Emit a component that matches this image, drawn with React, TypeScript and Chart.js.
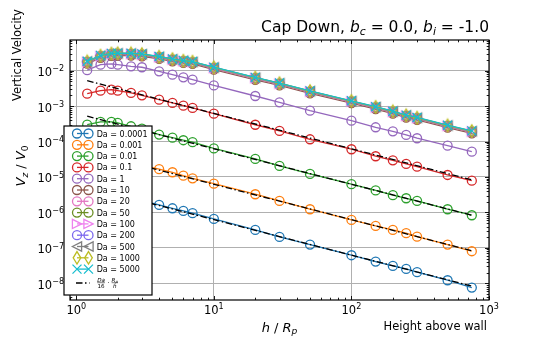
import React, { useEffect, useRef } from "react";
import { Chart, registerables } from "chart.js";
Chart.register(...registerables);

// ---------------- data ----------------
const heights = [1.2, 1.5, 1.8, 2, 2.5, 3, 4, 5, 6, 7, 10, 20, 30, 50, 100, 150, 200, 250, 300, 500, 750];

const daLabels = ["0.0001", "0.001", "0.01", "0.1", "1", "10", "20", "50", "100", "200", "500", "1000", "5000"];

const vzDa0p0001 = [3.7e-6, 4.0e-6, 3.5e-6, 3.2e-6, 2.55e-6, 2.15e-6, 1.63e-6, 1.31e-6, 1.1e-6, 9.5e-7, 6.56e-7, 3.2e-7, 2.04e-7, 1.24e-7, 6.2e-8, 4.1e-8, 3.1e-8, 2.55e-8, 2.06e-8, 1.22e-8, 7.56e-9];
const vzDa0p001 = [3.6e-5, 3.9e-5, 3.5e-5, 3.2e-5, 2.6e-5, 2.15e-5, 1.66e-5, 1.36e-5, 1.09e-5, 9.2e-6, 6.49e-6, 3.26e-6, 2.11e-6, 1.23e-6, 6.14e-7, 4.16e-7, 3.2e-7, 2.59e-7, 2.07e-7, 1.24e-7, 8.04e-8];
const vzDa0p01 = [3.0e-4, 3.57e-4, 3.57e-4, 3.35e-4, 2.7e-4, 2.31e-4, 1.57e-4, 1.29e-4, 1.09e-4, 9.6e-5, 6.4e-5, 3.23e-5, 2.05e-5, 1.22e-5, 6.28e-6, 4.18e-6, 3.06e-6, 2.51e-6, 2.11e-6, 1.23e-6, 8.33e-7];
const vzDa0p1 = [2.24e-3, 2.73e-3, 2.91e-3, 2.73e-3, 2.35e-3, 2.02e-3, 1.52e-3, 1.23e-3, 1.03e-3, 8.87e-4, 6.12e-4, 2.98e-4, 1.99e-4, 1.16e-4, 6.07e-5, 3.85e-5, 2.96e-5, 2.33e-5, 1.96e-5, 1.14e-5, 7.89e-6];
const vzDa1 = [1.03e-2, 1.48e-2, 1.55e-2, 1.48e-2, 1.33e-2, 1.25e-2, 9.6e-3, 7.7e-3, 6.5e-3, 5.57e-3, 3.83e-3, 1.93e-3, 1.28e-3, 7.45e-4, 3.89e-4, 2.53e-4, 1.95e-4, 1.54e-4, 1.24e-4, 7.66e-5, 5.19e-5];
const vzDa10 = [1.58e-2, 2.30e-2, 2.64e-2, 2.68e-2, 2.66e-2, 2.55e-2, 2.15e-2, 1.84e-2, 1.66e-2, 1.55e-2, 1.07e-2, 5.53e-3, 3.84e-3, 2.30e-3, 1.21e-3, 8.24e-4, 6.16e-4, 4.77e-4, 4.10e-4, 2.48e-4, 1.71e-4];
const vzDa20 = [1.69e-2, 2.45e-2, 2.81e-2, 2.86e-2, 2.83e-2, 2.72e-2, 2.29e-2, 1.96e-2, 1.77e-2, 1.65e-2, 1.14e-2, 5.89e-3, 4.10e-3, 2.46e-3, 1.29e-3, 8.79e-4, 6.57e-4, 5.09e-4, 4.37e-4, 2.64e-4, 1.82e-4];
const vzDa50 = [1.74e-2, 2.52e-2, 2.90e-2, 2.95e-2, 2.92e-2, 2.80e-2, 2.37e-2, 2.02e-2, 1.82e-2, 1.70e-2, 1.18e-2, 6.08e-3, 4.23e-3, 2.53e-3, 1.33e-3, 9.07e-4, 6.77e-4, 5.25e-4, 4.50e-4, 2.72e-4, 1.88e-4];
const vzDa100 = [1.78e-2, 2.58e-2, 2.96e-2, 3.01e-2, 2.98e-2, 2.86e-2, 2.41e-2, 2.06e-2, 1.86e-2, 1.74e-2, 1.20e-2, 6.20e-3, 4.31e-3, 2.59e-3, 1.35e-3, 9.25e-4, 6.91e-4, 5.35e-4, 4.60e-4, 2.78e-4, 1.92e-4];
const vzDa200 = [1.80e-2, 2.60e-2, 2.99e-2, 3.04e-2, 3.01e-2, 2.89e-2, 2.44e-2, 2.08e-2, 1.88e-2, 1.75e-2, 1.21e-2, 6.26e-3, 4.36e-3, 2.61e-3, 1.37e-3, 9.34e-4, 6.98e-4, 5.41e-4, 4.64e-4, 2.81e-4, 1.94e-4];
const vzDa500 = [1.81e-2, 2.63e-2, 3.02e-2, 3.07e-2, 3.04e-2, 2.91e-2, 2.46e-2, 2.10e-2, 1.90e-2, 1.77e-2, 1.23e-2, 6.32e-3, 4.40e-3, 2.64e-3, 1.38e-3, 9.43e-4, 7.05e-4, 5.46e-4, 4.69e-4, 2.83e-4, 1.96e-4];
const vzDa1000 = [1.83e-2, 2.65e-2, 3.05e-2, 3.10e-2, 3.07e-2, 2.94e-2, 2.49e-2, 2.12e-2, 1.91e-2, 1.79e-2, 1.24e-2, 6.39e-3, 4.44e-3, 2.66e-3, 1.39e-3, 9.53e-4, 7.11e-4, 5.51e-4, 4.73e-4, 2.86e-4, 1.98e-4];
const vzDa5000 = [1.85e-2, 2.68e-2, 3.08e-2, 3.13e-2, 3.10e-2, 2.97e-2, 2.51e-2, 2.14e-2, 1.93e-2, 1.81e-2, 1.25e-2, 6.45e-3, 4.48e-3, 2.69e-3, 1.41e-3, 9.62e-4, 7.18e-4, 5.57e-4, 4.78e-4, 2.89e-4, 2.00e-4];

// theory Da/16 * Rp/h, evaluated at the end heights
const theoryHeights = [1.2, 750];
const theoryDa0p0001 = [5.208e-6, 8.333e-9];
const theoryDa0p001 = [5.208e-5, 8.333e-8];
const theoryDa0p01 = [5.208e-4, 8.333e-7];
const theoryDa0p1 = [5.208e-3, 8.333e-6];

const xTickValues = [1, 10, 100, 1000];
const xTickExps = ["0", "1", "2", "3"];
const yTickValues = [1e-8, 1e-7, 1e-6, 1e-5, 1e-4, 1e-3, 1e-2];
const yTickExps = ["\u22128", "\u22127", "\u22126", "\u22125", "\u22124", "\u22123", "\u22122"];

// ---------------- styles ----------------
const seriesValues = [vzDa0p0001, vzDa0p001, vzDa0p01, vzDa0p1, vzDa1, vzDa10, vzDa20, vzDa50, vzDa100, vzDa200, vzDa500, vzDa1000, vzDa5000];
const seriesColors = ["#1f77b4", "#ff7f0e", "#2ca02c", "#d62728", "#9467bd", "#8c564b", "#e377c2", "#6b8e23", "#ee82ee", "#7b68ee", "#7f7f7f", "#bcbd22", "#17becf"];
const seriesMarkers = ["circle", "circle", "circle", "circle", "circle", "circle", "circle", "circle", "triR", "circle", "triL", "thinDiamond", "x"];
const theorySeries = [theoryDa0p0001, theoryDa0p001, theoryDa0p01, theoryDa0p1];

const FONT = '"DejaVu Sans"';
const LW = 1.3;
const DASHDOT = [6.5, 2.5, 1.5, 2.5];

type Run = { t: string; it?: boolean; sub?: boolean; sup?: boolean };

function runFont(size: number, r: Run) {
  const s = r.sub || r.sup ? size * 0.7 : size;
  return `${r.it ? "italic " : ""}${s}px ${FONT}`;
}
function measureRuns(ctx: CanvasRenderingContext2D, runs: Run[], size: number) {
  let w = 0;
  for (const r of runs) {
    ctx.font = runFont(size, r);
    w += ctx.measureText(r.t).width;
  }
  return w;
}
function drawRuns(ctx: CanvasRenderingContext2D, runs: Run[], size: number, x: number, y: number) {
  let cx = x;
  ctx.textAlign = "left";
  ctx.textBaseline = "alphabetic";
  for (const r of runs) {
    ctx.font = runFont(size, r);
    const dy = r.sub ? size * 0.22 : r.sup ? -size * 0.42 : 0;
    ctx.fillText(r.t, cx, y + dy);
    cx += ctx.measureText(r.t).width;
  }
}

function markerPath(ctx: CanvasRenderingContext2D, kind: string, x: number, y: number) {
  ctx.beginPath();
  if (kind === "circle") {
    ctx.arc(x, y, 4.5, 0, Math.PI * 2);
  } else if (kind === "triR") {
    ctx.moveTo(x + 4.6, y);
    ctx.lineTo(x - 4.6, y - 4.6);
    ctx.lineTo(x - 4.6, y + 4.6);
    ctx.closePath();
  } else if (kind === "triL") {
    ctx.moveTo(x - 4.6, y);
    ctx.lineTo(x + 4.6, y - 4.6);
    ctx.lineTo(x + 4.6, y + 4.6);
    ctx.closePath();
  } else if (kind === "thinDiamond") {
    ctx.moveTo(x, y - 6.2);
    ctx.lineTo(x + 3.8, y);
    ctx.lineTo(x, y + 6.2);
    ctx.lineTo(x - 3.8, y);
    ctx.closePath();
  } else if (kind === "x") {
    ctx.moveTo(x - 4.5, y - 4.5);
    ctx.lineTo(x + 4.5, y + 4.5);
    ctx.moveTo(x + 4.5, y - 4.5);
    ctx.lineTo(x - 4.5, y + 4.5);
  }
}

function makeMarkerCanvas(kind: string, color: string) {
  const c = document.createElement("canvas");
  c.width = 16;
  c.height = 16;
  const ctx = c.getContext("2d")!;
  ctx.strokeStyle = color;
  ctx.lineWidth = LW;
  markerPath(ctx, kind, 8, 8);
  ctx.stroke();
  return c;
}

const decorPlugin = {
  id: "decor",
  afterDraw(chart: any) {
    const ctx: CanvasRenderingContext2D = chart.ctx;
    const { left, right, top, bottom } = chart.chartArea;
    const xs = chart.scales.x;
    const ys = chart.scales.y;
    ctx.save();

    // inward ticks on all four sides
    ctx.strokeStyle = "#000";
    ctx.lineWidth = 0.9;
    const seg = (x1: number, y1: number, x2: number, y2: number) => {
      ctx.beginPath();
      ctx.moveTo(x1, y1);
      ctx.lineTo(x2, y2);
      ctx.stroke();
    };
    for (let k = -1; k <= 3; k++) {
      for (let m = 1; m <= 9; m++) {
        const v = m * Math.pow(10, k);
        if (v < xs.min || v > xs.max * 1.0001) continue;
        const px = Math.round(xs.getPixelForValue(v)) + 0.5;
        const len = m === 1 ? 4 : 2.3;
        seg(px, bottom, px, bottom - len);
        seg(px, top, px, top + len);
      }
    }
    for (let k = -9; k <= -1; k++) {
      for (let m = 1; m <= 9; m++) {
        const v = m * Math.pow(10, k);
        if (v < ys.min || v > ys.max) continue;
        const py = Math.round(ys.getPixelForValue(v)) + 0.5;
        const len = m === 1 ? 4 : 2.3;
        seg(left, py, left + len, py);
        seg(right, py, right - len, py);
      }
    }

    // frame
    ctx.lineWidth = 1.2;
    ctx.strokeRect(left, top, right - left, bottom - top);

    // tick labels
    ctx.fillStyle = "#000";
    const tickSize = 11.5;
    xTickValues.forEach((v, i) => {
      const px = xs.getPixelForValue(v);
      const runs: Run[] = [{ t: "10" }, { t: xTickExps[i], sup: true }];
      const w = measureRuns(ctx, runs, tickSize);
      drawRuns(ctx, runs, tickSize, px - w / 2, bottom + 13.5);
    });
    yTickValues.forEach((v, i) => {
      const py = ys.getPixelForValue(v);
      const runs: Run[] = [{ t: "10" }, { t: yTickExps[i], sup: true }];
      const w = measureRuns(ctx, runs, tickSize);
      drawRuns(ctx, runs, tickSize, left - 6 - w, py + 5.5);
    });

    // title
    const titleRuns: Run[] = [
      { t: "Cap Down, " },
      { t: "b", it: true },
      { t: "c", it: true, sub: true },
      { t: " = 0.0, " },
      { t: "b", it: true },
      { t: "i", it: true, sub: true },
      { t: " = -1.0" },
    ];
    const tSize = 15.5;
    const tw = measureRuns(ctx, titleRuns, tSize);
    drawRuns(ctx, titleRuns, tSize, right - tw, 32);

    // x label
    const xl: Run[] = [{ t: "h", it: true }, { t: " / " }, { t: "R", it: true }, { t: "p", it: true, sub: true }];
    const lSize = 13;
    const xlw = measureRuns(ctx, xl, lSize);
    drawRuns(ctx, xl, lSize, (left + right) / 2 - xlw / 2, 331.5);

    // height above wall
    ctx.font = `11.5px ${FONT}`;
    ctx.textAlign = "right";
    ctx.fillText("Height above wall", 487, 330);

    // y labels (rotated)
    const yl: Run[] = [{ t: "V", it: true }, { t: "z", it: true, sub: true }, { t: " / " }, { t: "V", it: true }, { t: "0", sub: true }];
    const ylw = measureRuns(ctx, yl, lSize);
    ctx.save();
    ctx.translate(25, 166);
    ctx.rotate(-Math.PI / 2);
    drawRuns(ctx, yl, lSize, -ylw / 2, 0);
    ctx.restore();

    ctx.save();
    ctx.font = `11.5px ${FONT}`;
    ctx.translate(21, 55);
    ctx.rotate(-Math.PI / 2);
    ctx.textAlign = "center";
    ctx.fillText("Vertical Velocity", 0, 0);
    ctx.restore();

    // legend
    const lx = 64, ly = 126, lw = 88, lh = 169;
    ctx.fillStyle = "#fff";
    ctx.fillRect(lx, ly, lw, lh);
    ctx.strokeStyle = "#000";
    ctx.lineWidth = 1.2;
    ctx.strokeRect(lx, ly, lw, lh);
    const hx1 = 77, hx2 = 88.5, textX = 96.7;
    daLabels.forEach((lab, i) => {
      const y = 133.5 + i * 11.3;
      const col = seriesColors[i];
      ctx.strokeStyle = col;
      ctx.lineWidth = LW;
      seg(hx1, y, hx2, y);
      markerPath(ctx, seriesMarkers[i], hx1, y);
      ctx.stroke();
      markerPath(ctx, seriesMarkers[i], hx2, y);
      ctx.stroke();
      ctx.fillStyle = "#000";
      ctx.font = `8px ${FONT}`;
      ctx.textAlign = "left";
      ctx.textBaseline = "alphabetic";
      ctx.fillText("Da = " + lab, textX, y + 3);
    });
    // theory entry
    const ty = 283;
    ctx.strokeStyle = "#000";
    ctx.lineWidth = LW;
    ctx.setLineDash(DASHDOT);
    seg(hx1 - 1, ty, hx2 + 1, ty);
    ctx.setLineDash([]);
    ctx.fillStyle = "#000";
    const fs = 5.6;
    const frac = (num: Run[], den: Run[], x: number) => {
      const wn = measureRuns(ctx, num, fs);
      const wd = measureRuns(ctx, den, fs);
      const w = Math.max(wn, wd);
      drawRuns(ctx, num, fs, x + (w - wn) / 2, ty - 1.5);
      drawRuns(ctx, den, fs, x + (w - wd) / 2, ty + 5);
      ctx.lineWidth = 0.5;
      seg(x, ty - 0.3, x + w, ty - 0.3);
      return x + w;
    };
    let cx = frac([{ t: "Da", it: true }], [{ t: "16" }], textX + 0.5);
    ctx.font = `7px ${FONT}`;
    ctx.textAlign = "left";
    ctx.fillText(" \u00b7 ", cx, ty + 2);
    cx += ctx.measureText(" \u00b7 ").width;
    frac([{ t: "R", it: true }, { t: "p", it: true, sub: true }], [{ t: "h", it: true }], cx);

    ctx.restore();
  },
};

export default function App() {
  const ref = useRef<HTMLCanvasElement>(null);
  useEffect(() => {
    const canvas = ref.current!;
    const datasets: any[] = [];
    seriesValues.forEach((vals, i) => {
      const kind = seriesMarkers[i];
      const col = seriesColors[i];
      let pointStyle: any = "circle";
      let pointRadius = 4.5;
      if (kind === "x") {
        pointStyle = "crossRot";
        pointRadius = 6.4;
      } else if (kind !== "circle") {
        pointStyle = makeMarkerCanvas(kind, col);
      }
      datasets.push({
        label: "Da = " + daLabels[i],
        data: heights.map((h, j) => ({ x: h, y: vals[j] })),
        showLine: true,
        borderColor: col,
        backgroundColor: "rgba(0,0,0,0)",
        borderWidth: LW,
        pointStyle,
        pointRadius,
        pointBorderWidth: LW,
        pointBorderColor: col,
        pointBackgroundColor: "rgba(0,0,0,0)",
        order: 100 - i,
      });
    });
    theorySeries.forEach((vals) => {
      datasets.push({
        label: "theory",
        data: theoryHeights.map((h, j) => ({ x: h, y: vals[j] })),
        showLine: true,
        borderColor: "#000",
        borderWidth: LW,
        borderDash: DASHDOT,
        pointRadius: 0,
        order: 0,
      });
    });

    const chart = new Chart(canvas, {
      type: "scatter",
      data: { datasets },
      options: {
        responsive: false,
        animation: false,
        devicePixelRatio: 1,
        layout: { padding: { left: 0, right: 56, top: 40, bottom: 0 }, autoPadding: false },
        plugins: { legend: { display: false }, tooltip: { enabled: false }, title: { display: false } },
        scales: {
          x: {
            type: "logarithmic",
            min: 0.9,
            max: 1000,
            afterBuildTicks: (s: any) => {
              s.ticks = xTickValues.map((v) => ({ value: v }));
            },
            afterFit: (s: any) => {
              s.height = 37;
            },
            ticks: { display: false },
            grid: { color: "#b0b0b0", lineWidth: 1, drawTicks: false },
            border: { display: false },
          },
          y: {
            type: "logarithmic",
            min: 3.38e-9,
            max: 0.0734,
            afterBuildTicks: (s: any) => {
              s.ticks = yTickValues.map((v) => ({ value: v }));
            },
            afterFit: (s: any) => {
              s.width = 70;
            },
            ticks: { display: false },
            grid: { color: "#b0b0b0", lineWidth: 1, drawTicks: false },
            border: { display: false },
          },
        },
      } as any,
      plugins: [decorPlugin],
    });
    return () => chart.destroy();
  }, []);
  return (
    <div style={{ position: "absolute", left: 0, top: 0, width: 545, height: 337, background: "#fff" }}>
      <canvas ref={ref} width={545} height={337} style={{ display: "block", width: 545, height: 337 }} />
    </div>
  );
}
